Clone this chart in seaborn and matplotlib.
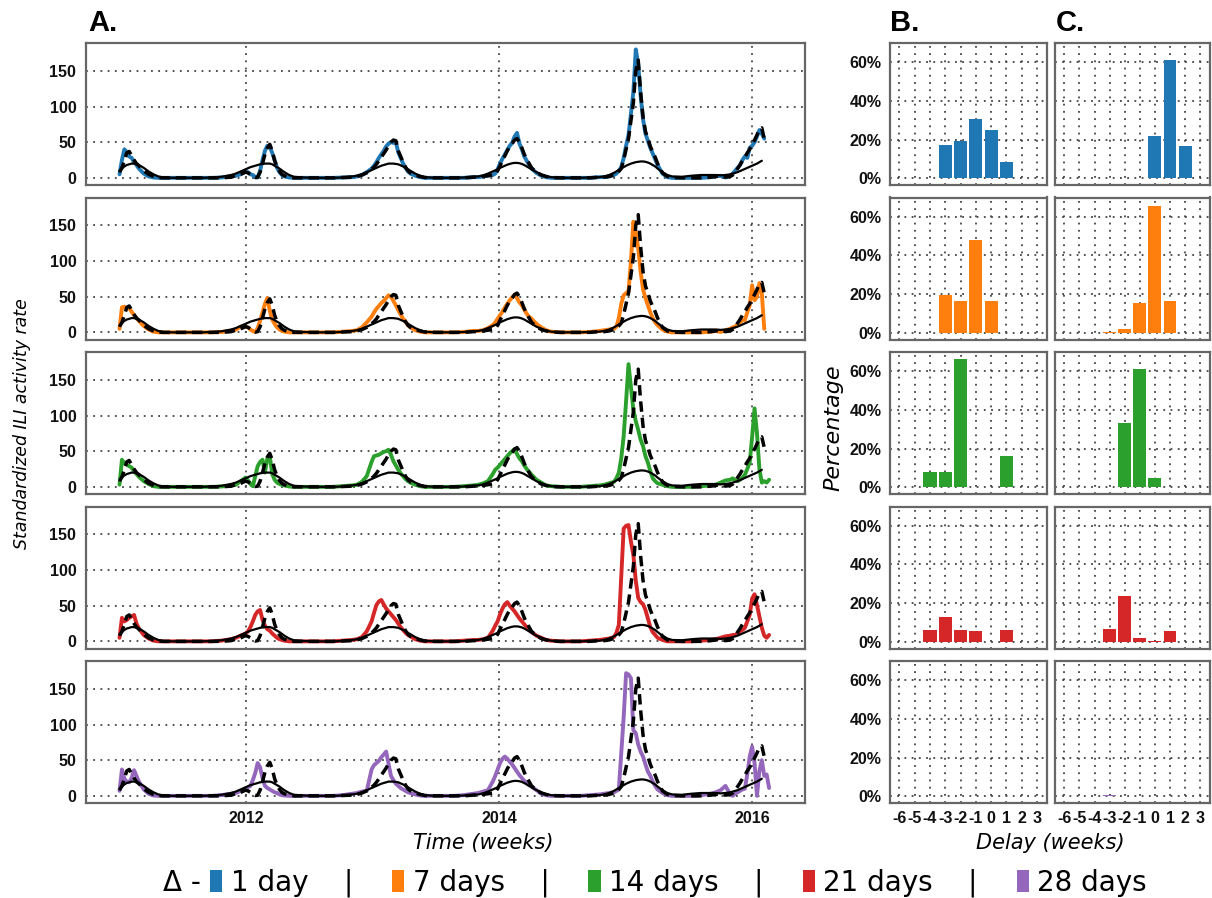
import numpy as np
import pandas as pd
import matplotlib
matplotlib.use("Agg")
import matplotlib.pyplot as plt
import seaborn as sns
from matplotlib.patches import Patch

# weeks since 2011-01-01 (dense around the flu peaks, sparse in summer)
weeks = [0, 1, 2, 3, 4, 5, 6, 7, 8, 10, 12, 14, 16, 18,
         22, 26, 30, 34, 38, 42, 46,
         48, 50, 52, 53, 54, 55, 56, 57, 58, 59, 60, 61, 62, 63, 64, 65, 66, 67, 68, 70, 72,
         76, 80, 84, 88, 92, 96,
         98, 100, 102, 104, 105, 106, 107, 108, 109, 110, 111, 112, 113, 114, 115, 116, 117, 118, 119, 120, 122, 124, 126,
         130, 134, 138, 142, 146,
         148, 150, 152, 154, 155, 156, 157, 158, 159, 160, 161, 162, 163, 164, 165, 166, 167, 168, 169, 170, 172, 174, 176, 178,
         182, 186, 190, 194, 198,
         200, 202, 204, 205, 206, 207, 208, 209, 210, 211, 212, 213, 214, 215, 216, 217, 218, 219, 220, 221, 222, 224, 226, 228,
         232, 236, 240, 244,
         246, 248, 250, 252, 253, 254, 255, 256, 257, 258, 259, 260, 261, 262, 263, 264, 265, 266, 267, 268]

# observed ILI rate (dashed black)
ili_observed = [8, 14, 24, 35, 37, 31, 25, 20, 17, 10, 5, 2, 0.5, 0,
                0, 0, 0, 0, 0, 0, 1,
                3, 5, 8, 7, 5, 2, 0.5, 1, 8, 20, 33, 42, 47, 38, 24, 15, 9, 5, 3, 1, 0,
                0, 0, 0, 0, 0.5, 1,
                2, 4, 7, 12, 15, 19, 24, 29, 34, 39, 45, 50, 53, 52, 38, 30, 22, 15, 10, 7, 4, 2, 0.5,
                0, 0, 0, 0, 1,
                1, 2, 3, 4, 5, 10, 17, 24, 31, 38, 44, 48, 53, 55, 50, 42, 33, 26, 20, 14, 8, 4, 2, 0.5,
                0, 0, 0, 0, 1,
                1, 2, 4, 6, 9, 13, 25, 40, 55, 80, 105, 150, 165, 120, 85, 65, 55, 44, 36, 29, 20, 7, 2, 0.5,
                0, 0, 0, 1,
                2, 3, 1, 2, 4, 8, 13, 18, 24, 29, 35, 40, 47, 53, 60, 68, 70, 55, None, None]

# seasonal baseline (solid black)
ili_baseline = [9, 13, 16, 18, 19, 20, 20, 19, 18, 14, 9, 5, 2, 0.5,
                0, 0, 0, 0, 0.5, 1.5, 4,
                6, 9, 12, 13.5, 15, 16, 17, 18, 19, 19.5, 20, 20, 20, 19, 17, 15, 13, 10.5, 8, 4, 1.5,
                0.5, 0, 0, 0, 0.5, 2,
                3, 5, 8, 11, 12.5, 14, 15.5, 17, 18, 19, 20, 20, 20, 19.5, 19, 17.5, 16, 14, 12, 10, 6, 3, 1,
                0, 0, 0, 0.5, 1.5,
                2, 3.5, 6, 9, 10.5, 12, 14, 15.5, 17, 18.5, 19.5, 20.5, 21, 21, 20.5, 19.5, 18, 16, 14, 12, 8, 5, 2.5, 1,
                0, 0, 0, 0.5, 1,
                2, 4, 7, 9, 11, 13, 15, 17, 18.5, 20, 21, 22, 22.5, 23, 23, 22.5, 21.5, 20, 18, 16, 13, 8, 4, 2,
                1.5, 3, 4, 4,
                4, 3.5, 4, 5, 6, 7, 8, 9.5, 11, 12.5, 14, 15.5, 17, 18.5, 20, 22, 24, None, None, None]

nowcast_1d = [5, 25, 40, 36, 30, 28, 22, 18, 13, 6, 2, 0.5, 0, 0,
              0, 0, 0, 0, 0, 0.5, 2,
              3, 5, 9, 8, 5, 4, 1, 0.5, 10, 25, 38, 45, 44, 35, 25, 14, 8, 4, 2, 0.5, 0,
              0, 0, 0, 0, 0.5, 1,
              2, 4, 8, 13, 17, 22, 28, 33, 38, 44, 48, 50, 49, 50, 36, 28, 20, 14, 9, 6, 3, 1, 0,
              0, 0, 0, 0, 1,
              1, 2, 3, 4, 6, 12, 20, 27, 33, 39, 45, 49, 58, 63, 48, 40, 30, 24, 18, 13, 7, 3, 1, 0,
              0, 0, 0, 0, 1,
              1, 2, 4, 6, 10, 15, 28, 45, 60, 90, 120, 180, 160, 115, 82, 62, 52, 42, 34, 26, 18, 6, 1, 0,
              0, 0, 0, 1,
              2, 3, 0.5, 3, 6, 10, 14, 18, 25, 30, 28, 42, 45, 50, 58, 67, 62, 55, None, None]

nowcast_7d = [5, 35, 36, 33, 34, 29, 24, 20, 16, 9, 4, 1, 0, 0,
              0, 0, 0, 0, 0, 0.5, 2,
              4, 8, 8, 7, 4, 2, 0.5, 6, 16, 28, 40, 48, 30, 18, 12, 7, 4, 2, 1, 0, 0,
              0, 0, 0, 0, 1, 2,
              3, 7, 14, 22, 28, 33, 37, 41, 44, 48, 52, 50, 44, 38, 31, 25, 19, 15, 10, 7, 3, 1, 0,
              0, 0, 0, 0.5, 2,
              2, 3, 6, 10, 14, 19, 24, 29, 35, 40, 45, 49, 53, 48, 42, 38, 32, 26, 22, 19, 12, 7, 3, 1,
              0, 0, 0, 0.5, 2,
              3, 4, 5, 8, 20, 40, 52, 55, 58, 100, 155, 140, 118, 85, 60, 48, 38, 28, 20, 14, 10, 4, 1, 0,
              0, 0, 0, 1,
              2, 0.5, 3, 5, 7, 8, 11, 14, 17, 17, 28, 38, 66, 45, 50, 69, 55, 5, None, None]

nowcast_14d = [3, 38, 33, 31, 29, 27, 22, 18, 14, 8, 4, 1, 0, 0,
               0, 0, 0, 0, 0, 0.5, 2,
               3, 8, 13, 9, 4, 1, 15, 29, 35, 38, 20, 40, 43, 18, 10, 6, 4, 3, 2, 0.5, 0,
               0, 0, 0, 0, 1, 2,
               3, 7, 15, 35, 43, 44, 45, 47, 49, 50, 52, 45, 36, 30, 24, 19, 15, 11, 8, 6, 3, 1, 0,
               0, 0, 0, 1, 2,
               3, 5, 8, 18, 24, 27, 31, 35, 39, 43, 47, 50, 53, 46, 40, 36, 30, 25, 21, 17, 10, 6, 2, 1,
               0, 0, 0, 1, 2,
               3, 5, 7, 12, 20, 40, 71, 120, 172, 140, 108, 92, 80, 66, 57, 43, 34, 22, 12, 8, 5, 3, 1, 0,
               0, 0, 1, 2,
               3, 6, 9, 10, 12, 9, 8, 10, 13, 17, 25, 34, 70, 110, 75, 25, 6, 8, 6, 10]

nowcast_21d = [5, 33, 28, 30, 33, 35, 37, 25, 18, 9, 4, 1, 0, 0,
               0, 0, 0, 0, 0, 1, 3,
               5, 8, 11, 14, 20, 28, 37, 42, 44, 30, 22, 17, 15, 11, 8, 5, 3, 2, 1, 0, 0,
               0, 0, 0, 0, 1, 2,
               3, 6, 14, 28, 40, 51, 56, 58, 52, 46, 42, 38, 34, 30, 25, 20, 16, 12, 9, 7, 3, 1, 0,
               0, 0, 0, 1, 2,
               2, 3, 5, 15, 22, 28, 38, 46, 52, 55, 50, 46, 42, 37, 32, 28, 24, 20, 16, 13, 8, 5, 2, 1,
               0, 0, 0, 1, 2,
               3, 4, 6, 12, 23, 90, 158, 162, 163, 140, 121, 85, 61, 55, 52, 44, 32, 20, 13, 9, 5, 2, 0, 0,
               0, 0, 1, 2,
               3, 5, 7, 8, 9, 9, 11, 14, 16, 19, 28, 37, 60, 66, 51, 35, 19, 8, 5, 9]

nowcast_28d = [7, 37, 24, 20, 19, 25, 36, 28, 20, 9, 3, 0.5, 0, 0,
               0, 0, 0, 0, 0, 1, 3,
               4, 7, 9, 12, 14, 22, 32, 46, 40, 25, 14, 11, 9, 7, 5, 4, 2, 1, 0.5, 0, 0,
               0, 0, 0, 0, 1, 3,
               4, 6, 7, 37, 43, 46, 49, 54, 58, 62, 45, 28, 22, 17, 14, 11, 9, 7, 5, 4, 2, 0.5, 0,
               0, 0, 0, 1, 3,
               4, 6, 8, 20, 28, 37, 46, 52, 55, 52, 48, 44, 39, 34, 29, 25, 21, 18, 15, 13, 8, 3, 1, 0,
               0, 0, 0, 1, 2,
               3, 4, 5, 7, 9, 60, 110, 172, 170, 165, 92, 88, 72, 62, 55, 44, 34, 28, 20, 14, 9, 4, 1, 0,
               0, 0, 1, 3,
               5, 8, 14, 2, 0, 3, 5, 7, 9, 10, 30, 55, 69, 46, 0, 35, 50, 28, 30, 11]

# peak-timing delay histograms (percent)
delays = [-6, -5, -4, -3, -2, -1, 0, 1, 2, 3]
delay_b_1d = [0, 0, 0, 17, 19.5, 30.5, 25, 8.5, 0, 0]
delay_b_7d = [0, 0, 0, 19.5, 16.5, 48, 16.5, 0, 0, 0]
delay_b_14d = [0, 0, 8, 8, 66.5, 0.3, 0.3, 16, 0, 0]
delay_b_21d = [0, 0, 6, 12.8, 6.2, 5.3, 0, 6.2, 0, 0]
delay_b_28d = [0.2, 0, 0, 0.2, 0, 0, 0, 0, 0, 0]
delay_c_1d = [0, 0, 0, 0, 0, 0, 22, 61, 16.5, 0]
delay_c_7d = [0, 0, 0, 0.3, 2, 15.4, 65.5, 16.2, 0, 0]
delay_c_14d = [0, 0, 0, 0, 33, 61, 4.8, 0, 0, 0]
delay_c_21d = [0, 0, 0, 6.5, 23.8, 2, 0.5, 5.6, 0, 0]
delay_c_28d = [0, 0, 0, 0.6, 0, 0, 0, 0, 0, 0]

labels = ["1 day", "7 days", "14 days", "21 days", "28 days"]
colors = ["#1f77b4", "#ff7f0e", "#2ca02c", "#d62728", "#9467bd"]
nowcasts = [nowcast_1d, nowcast_7d, nowcast_14d, nowcast_21d, nowcast_28d]
delay_b = [delay_b_1d, delay_b_7d, delay_b_14d, delay_b_21d, delay_b_28d]
delay_c = [delay_c_1d, delay_c_7d, delay_c_14d, delay_c_21d, delay_c_28d]

years = 2011 + np.array(weeks) / 52.18

sns.set_style("white")
plt.rcParams['font.family'] = ['DejaVu Sans']
plt.rcParams['text.color'] = 'black'
plt.rcParams['axes.labelcolor'] = 'black'
plt.rcParams['xtick.color'] = 'black'
plt.rcParams['ytick.color'] = 'black'

W, H = 1212, 898
fig = plt.figure(figsize=(W / 100, H / 100), dpi=100)


def px_axes(x0, y0, x1, y1):
    return fig.add_axes([x0 / W, 1 - y1 / H, (x1 - x0) / W, (y1 - y0) / H])


tick_font = dict(fontsize=11.5, fontweight='bold', family='Liberation Sans', color='#111111')
grid_kw = dict(color='#444444', lw=1.3, ls=(0, (1, 3)))


def frame(ax):
    for s in ax.spines.values():
        s.set_color('#666666')
        s.set_linewidth(1.6)
    ax.set_axisbelow(True)
    ax.grid(True, **grid_kw)


row_tops = [43, 197.5, 352, 506.5, 661]
row_h = 142

for i in range(5):
    top = row_tops[i]
    last = i == 4

    # panel A: time series
    ax = px_axes(86, top, 805, top + row_h)
    sns.lineplot(x=years, y=np.array(nowcasts[i], dtype=float), ax=ax, color=colors[i],
                 lw=2.8, estimator=None, sort=False)
    sns.lineplot(x=years, y=np.array(ili_baseline, dtype=float), ax=ax, color='black',
                 lw=1.6, estimator=None, sort=False)
    sns.lineplot(x=years, y=np.array(ili_observed, dtype=float), ax=ax, color='black',
                 lw=2.5, ls=(0, (3, 1.7)), estimator=None, sort=False)
    ax.set_xlim(2010.735, 2016.42)
    ax.set_ylim(-10, 189)
    ax.set_yticks([0, 50, 100, 150], labels=['0', '50', '100', '150'], **tick_font)
    ax.set_xticks([2012, 2014, 2016],
                  labels=['2012', '2014', '2016'] if last else ['', '', ''], **tick_font)
    ax.tick_params(axis='y', length=0, pad=7)
    ax.tick_params(axis='x', length=3, width=1, color='#555555', pad=3)
    ax.set_xlabel('')
    ax.set_ylabel('')
    frame(ax)

    # panels B and C: delay histograms
    for j, (x0, x1, vals) in enumerate([(890, 1047, delay_b[i]), (1055, 1210, delay_c[i])]):
        bx = px_axes(x0, top, x1, top + row_h)
        sns.barplot(x=delays, y=vals, ax=bx, native_scale=True, color=colors[i],
                    width=0.86, saturation=1, edgecolor='none')
        bx.set_xlim(-6.62, 3.65)
        bx.set_ylim(-3.5, 70)
        bx.set_yticks([0, 20, 40, 60],
                      labels=['0%', '20%', '40%', '60%'] if j == 0 else ['', '', '', ''], **tick_font)
        bx.set_xticks(delays, labels=[str(d) for d in delays] if last else [''] * 10, **tick_font)
        bx.tick_params(axis='both', length=0, pad=6)
        bx.set_xlabel('')
        bx.set_ylabel('')
        frame(bx)

# panel letters
for x, t in [(88, 'A.'), (890, 'B.'), (1056, 'C.')]:
    fig.text(x / W, 1 - 23 / H, t, fontsize=21, fontweight='bold', family='Liberation Sans',
             va='center', ha='left', color='black')

# axis titles
fig.text(22 / W, 1 - 424 / H, 'Standardized ILI activity rate', rotation=90, style='italic',
         fontsize=12.5, ha='center', va='center')
fig.text(483 / W, 1 - 843 / H, 'Time (weeks)', style='italic', fontsize=15, ha='center', va='center')
fig.text(833 / W, 1 - 428 / H, 'Percentage', rotation=90, style='italic', fontsize=16,
         ha='center', va='center')
fig.text(1050 / W, 1 - 843 / H, 'Delay (weeks)', style='italic', fontsize=15, ha='center', va='center')

# bottom legend
fig.text(163 / W, 1 - 883 / H, 'Δ -', fontsize=20, ha='left', va='center')
handles = [Patch(facecolor=c, edgecolor='none') for c in colors]
leg_labels = [lab + '    |' for lab in labels[:-1]] + [labels[-1]]
fig.legend(handles, leg_labels, loc='center left', bbox_to_anchor=(210 / W, 1 - 883 / H),
           ncol=5, frameon=False, fontsize=20, handlelength=0.45, handleheight=0.85,
           handletextpad=0.3, columnspacing=1.4, borderpad=0, borderaxespad=0)

fig.savefig('out.png', dpi=100)
